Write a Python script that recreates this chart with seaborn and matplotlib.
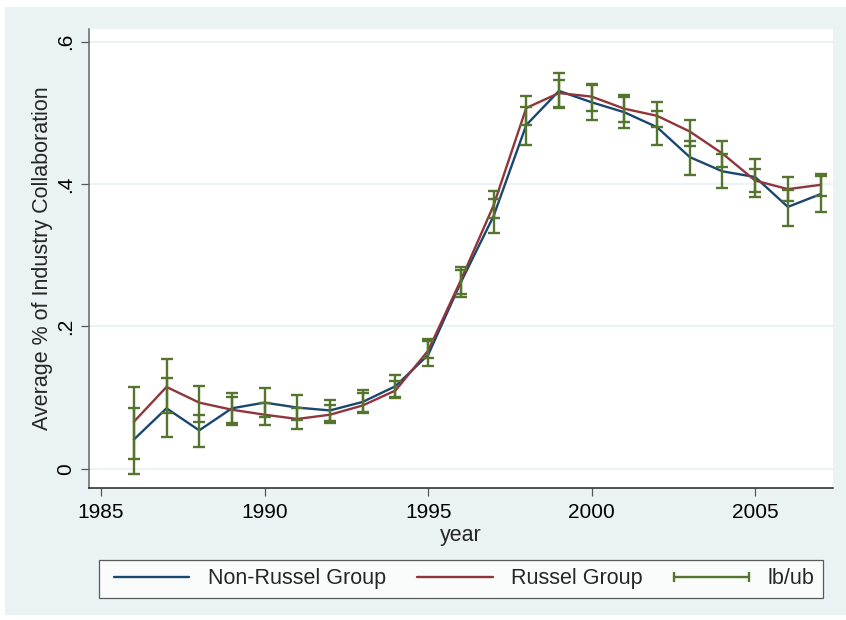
import matplotlib
matplotlib.use("Agg")
import matplotlib.pyplot as plt
import matplotlib.patches as mpatches
from matplotlib.lines import Line2D
import seaborn as sns
import numpy as np
import pandas as pd

# --- data ---
years = list(range(1986, 2008))

non_russel = [0.041, 0.085, 0.054, 0.085, 0.093, 0.086, 0.082, 0.094, 0.116, 0.160, 0.262,
              0.355, 0.483, 0.531, 0.515, 0.501, 0.480, 0.438, 0.418, 0.410, 0.368, 0.386]
russel = [0.066, 0.115, 0.093, 0.083, 0.076, 0.070, 0.076, 0.089, 0.110, 0.166, 0.265,
          0.370, 0.507, 0.528, 0.523, 0.506, 0.496, 0.474, 0.443, 0.405, 0.393, 0.399]

non_russel_lb = [-0.008, 0.045, 0.030, 0.065, 0.073, 0.068, 0.067, 0.079, 0.101, 0.144, 0.241,
                 0.331, 0.455, 0.508, 0.490, 0.479, 0.455, 0.413, 0.394, 0.389, 0.341, 0.361]
non_russel_ub = [0.086, 0.127, 0.075, 0.106, 0.113, 0.104, 0.097, 0.111, 0.132, 0.180, 0.280,
                 0.379, 0.508, 0.556, 0.539, 0.522, 0.503, 0.461, 0.442, 0.435, 0.392, 0.412]
russel_lb = [0.014, 0.079, 0.066, 0.062, 0.061, 0.056, 0.064, 0.080, 0.099, 0.155, 0.245,
             0.352, 0.483, 0.507, 0.503, 0.487, 0.480, 0.453, 0.424, 0.382, 0.376, 0.383]
russel_ub = [0.115, 0.154, 0.117, 0.101, 0.092, 0.085, 0.089, 0.107, 0.123, 0.183, 0.283,
             0.390, 0.524, 0.546, 0.541, 0.525, 0.515, 0.490, 0.461, 0.421, 0.410, 0.414]

y_ticks = [0, 0.2, 0.4, 0.6]
y_ticklabels = ["0", ".2", ".4", ".6"]
x_ticks = [1985, 1990, 1995, 2000, 2005]

# Stata s2color-ish colours
navy = "#1a476f"
maroon = "#90353b"
green = "#55752f"
bg = "#eaf2f3"

sns.set_style("white")
plt.rcParams['font.family'] = ['Liberation Sans', 'DejaVu Sans']

data = pd.DataFrame({
    "year": years * 2,
    "value": non_russel + russel,
    "group": ["Non-Russel Group"] * len(years) + ["Russel Group"] * len(years),
})

fig = plt.figure(figsize=(8.46, 6.2), dpi=100, facecolor="white")
fig.patches.append(mpatches.Rectangle((5 / 846, 5 / 620), 841 / 846, 608 / 620,
                                      transform=fig.transFigure, facecolor=bg,
                                      edgecolor="none", zorder=-10))
ax = fig.add_axes([89 / 846, 1 - 488 / 620, (833 - 89) / 846, (488 - 29) / 620])
ax.set_facecolor("white")

sns.lineplot(data=data, x="year", y="value", hue="group",
             palette=[navy, maroon], linewidth=1.7, ax=ax, legend=False, zorder=2)

# confidence bounds, one rcap per group
for lb, ub in [(non_russel_lb, non_russel_ub), (russel_lb, russel_ub)]:
    lb = np.array(lb)
    ub = np.array(ub)
    mid = (lb + ub) / 2
    ax.errorbar(years, mid, yerr=[mid - lb, ub - mid], fmt="none", ecolor=green,
                elinewidth=1.7, capsize=4.2, capthick=1.7, zorder=3)

ax.set_xlim(1984.63, 2007.38)
ax.set_ylim(-0.027, 0.618)
ax.set_yticks(y_ticks)
ax.set_yticklabels(y_ticklabels, rotation=90, va="center")
ax.set_xticks(x_ticks)
ax.yaxis.grid(True, color=bg, linewidth=1.3)
ax.set_axisbelow(True)

for side in ["top", "right"]:
    ax.spines[side].set_visible(False)
ax.spines["left"].set_color("#666666")
ax.spines["bottom"].set_color("#222222")
ax.spines["left"].set_linewidth(1.1)
ax.spines["bottom"].set_linewidth(1.1)
ax.tick_params(axis="both", direction="out", length=6, width=0.9, color="#555555",
               labelsize=15, labelcolor="black", left=True, bottom=True)
ax.tick_params(axis="x", pad=5)
ax.tick_params(axis="y", pad=4)

ax.set_xlabel("year", fontsize=15.5, labelpad=2)
ax.set_ylabel("Average % of Industry Collaboration", fontsize=15.5, labelpad=2)

handles = [
    Line2D([], [], color=navy, linewidth=1.7),
    Line2D([], [], color=maroon, linewidth=1.7),
    Line2D([], [], color=green, linewidth=1.7, marker="|", markersize=7, markeredgewidth=1.7),
]
labels = ["Non-Russel Group", "Russel Group", "lb/ub"]
leg = fig.legend(handles, labels, loc="lower left", ncol=3, mode="expand",
                 bbox_to_anchor=(99 / 846, 1 - 598 / 620, (823 - 99) / 846, 40 / 620),
                 fontsize=15.5, frameon=True, fancybox=False, handlelength=4.1,
                 handletextpad=0.55, numpoints=2, borderaxespad=0, borderpad=0.4)
leg.get_frame().set_edgecolor("#333333")
leg.get_frame().set_linewidth(0.9)
leg.get_frame().set_facecolor("white")

fig.savefig("out.png", dpi=100, facecolor=fig.get_facecolor())
